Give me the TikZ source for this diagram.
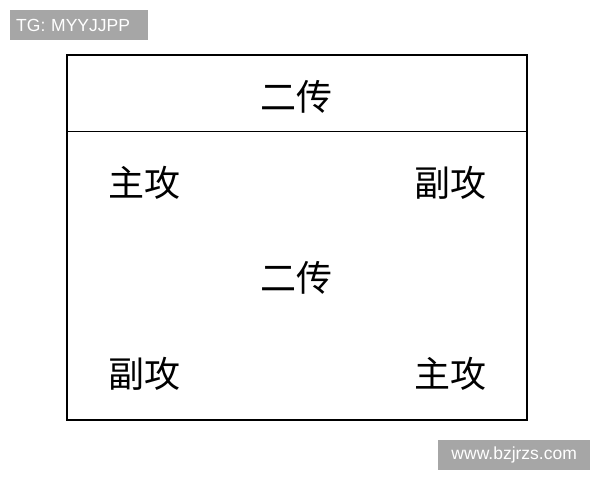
\documentclass[tikz,border=0pt]{standalone}
\usepackage{fontspec}
\setmainfont{Liberation Sans}
\newfontfamily\cjk{Noto Sans CJK SC}
\definecolor{wmgray}{HTML}{A6A6A6}
\tikzset{
  lbl/.style={font=\cjk\fontsize{36}{40}\selectfont, inner sep=0pt, anchor=center},
  wm/.style={fill=wmgray, text=white, font=\fontsize{17.5}{20}\selectfont, inner sep=0pt, anchor=north west},
}
\begin{document}
\begin{tikzpicture}[x=1pt,y=-1pt]
\useasboundingbox (0,0) rectangle (600,480);
\fill[white] (0,0) rectangle (600,480);
% watermarks
\node[wm, minimum width=138pt, minimum height=30pt, text width=134pt, align=left] (tg) at (10,10) {\hspace*{4pt}TG: MYYJJPP};
\node[wm, minimum width=152pt, minimum height=30pt, text width=150pt, align=center] (web) at (438,440) {www.bzjrzs.com};
% frame
\draw[line width=2pt] (67,55) rectangle (527,420);
\coordinate (la) at (67,131);
\coordinate (lb) at (527,131);
\draw[line width=0.9pt] (la) -- (lb);
% labels
\node[lbl] (top) at (296,97) {二传};
\node[lbl] (zg1) at (144,183) {主攻};
\node[lbl] (fg1) at (450,183) {副攻};
\node[lbl] (mid) at (296,278) {二传};
\node[lbl] (fg2) at (144,374) {副攻};
\node[lbl] (zg2) at (450,374) {主攻};
\end{tikzpicture}
\end{document}
